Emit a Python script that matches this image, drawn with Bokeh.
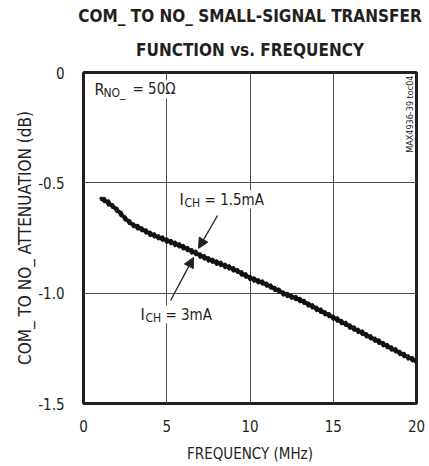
import math
from bokeh.plotting import figure
from bokeh.models import (Range1d, FixedTicker, CustomJSTickFormatter, Label,
                          Arrow, NormalHead, Title)
from bokeh.embed import file_html
from bokeh.resources import INLINE

# ---------------- data ----------------
freq_mhz = [
    1.0, 1.25, 1.5, 1.75, 2.0, 2.25, 2.5, 2.75, 3.0, 3.25, 3.5, 3.75,
    4.0, 4.25, 4.5, 4.75, 5.0, 5.25, 5.5, 5.75, 6.0, 6.25, 6.5, 6.75,
    7.0, 7.25, 7.5, 7.75, 8.0, 8.25, 8.5, 8.75, 9.0, 9.25, 9.5, 9.75,
    10.0, 10.25, 10.5, 10.75, 11.0, 11.25, 11.5, 11.75, 12.0, 12.25, 12.5, 12.75,
    13.0, 13.25, 13.5, 13.75, 14.0, 14.25, 14.5, 14.75, 15.0, 15.25, 15.5, 15.75,
    16.0, 16.25, 16.5, 16.75, 17.0, 17.25, 17.5, 17.75, 18.0, 18.25, 18.5, 18.75,
    19.0, 19.25, 19.5, 19.75, 20.0,
]

atten_ich_1p5ma = [
    -0.565, -0.586, -0.581, -0.613, -0.614, -0.649, -0.654, -0.685, -0.685, -0.709, -0.703, -0.728,
    -0.723, -0.746, -0.739, -0.761, -0.753, -0.776, -0.768, -0.791, -0.783, -0.808, -0.802, -0.826,
    -0.821, -0.846, -0.838, -0.861, -0.853, -0.876, -0.868, -0.891, -0.883, -0.907, -0.902, -0.928,
    -0.923, -0.946, -0.938, -0.960, -0.954, -0.978, -0.973, -0.997, -0.994, -1.016, -1.009, -1.030,
    -1.023, -1.047, -1.043, -1.067, -1.063, -1.088, -1.083, -1.107, -1.103, -1.128, -1.123, -1.147,
    -1.143, -1.168, -1.163, -1.188, -1.183, -1.208, -1.203, -1.228, -1.223, -1.248, -1.243, -1.267,
    -1.263, -1.288, -1.283, -1.307, -1.305,
]

atten_ich_3ma = [
    -0.577, -0.570, -0.602, -0.598, -0.630, -0.632, -0.670, -0.669, -0.699, -0.692, -0.718, -0.712,
    -0.739, -0.730, -0.754, -0.745, -0.770, -0.760, -0.785, -0.775, -0.800, -0.792, -0.819, -0.809,
    -0.838, -0.829, -0.855, -0.845, -0.870, -0.859, -0.885, -0.875, -0.900, -0.892, -0.919, -0.911,
    -0.939, -0.930, -0.954, -0.944, -0.969, -0.962, -0.989, -0.981, -1.009, -1.000, -1.024, -1.014,
    -1.039, -1.032, -1.059, -1.052, -1.079, -1.071, -1.099, -1.092, -1.119, -1.111, -1.139, -1.131,
    -1.160, -1.152, -1.179, -1.171, -1.199, -1.192, -1.219, -1.211, -1.239, -1.232, -1.259, -1.251,
    -1.279, -1.272, -1.299, -1.291, -1.317,
]

x_ticks = [0, 5, 10, 15, 20]
y_ticks = [0, -0.5, -1.0, -1.5]

title_line1 = "COM_ TO NO_ SMALL-SIGNAL TRANSFER"
title_line2 = "FUNCTION vs. FREQUENCY"
x_label = "FREQUENCY (MHz)"
y_label = "COM_ TO NO_ ATTENUATION (dB)"
figure_code = "MAX4936-39 toc04"

# ---------------- style ----------------
FONT = "DejaVu Sans Condensed"
INK = "#231f20"

p = figure(width=429, height=466, output_backend="svg", toolbar_location=None,
           x_range=Range1d(0, 20), y_range=Range1d(-1.5, 0), title=None,
           min_border_left=83, min_border_right=13, min_border_top=72,
           min_border_bottom=63, background_fill_color="white",
           border_fill_color="white")

t2 = Title(text=title_line2, align="center", text_font=FONT, text_font_size="17px",
           text_font_style="bold", text_color=INK, standoff=25)
p.add_layout(t2, "above")
t1 = Title(text=title_line1, align="center", text_font=FONT, text_font_size="17px",
           text_font_style="bold", text_color=INK, standoff=0)
p.add_layout(t1, "above")

p.xaxis.ticker = FixedTicker(ticks=x_ticks)
p.yaxis.ticker = FixedTicker(ticks=y_ticks)
p.yaxis.formatter = CustomJSTickFormatter(code="return tick == 0 ? '0' : tick.toFixed(1);")
p.xaxis.axis_label = x_label
p.yaxis.axis_label = y_label
for ax in p.axis:
    ax.axis_line_color = None
    ax.major_tick_line_color = None
    ax.minor_tick_line_color = None
    ax.major_tick_out = 0
    ax.major_tick_in = 0
    ax.major_label_text_font = FONT
    ax.major_label_text_font_size = "15px"
    ax.major_label_text_color = INK
    ax.axis_label_text_font = FONT
    ax.axis_label_text_font_size = "15px"
    ax.axis_label_text_font_style = "normal"
    ax.axis_label_text_color = INK
p.yaxis.axis_label_text_font_size = "17px"
p.xaxis.major_label_standoff = 16
p.xaxis.axis_label_standoff = 10
p.yaxis.major_label_standoff = 19
p.yaxis.axis_label_standoff = 0

p.grid.grid_line_color = "#4d4d4d"
p.grid.grid_line_width = 1
p.outline_line_color = INK
p.outline_line_width = 3

p.line(freq_mhz, atten_ich_1p5ma, line_color="#111111", line_width=3, line_join="round")
p.line(freq_mhz, atten_ich_3ma, line_color="#111111", line_width=3, line_join="round")


def lab(x, y, text, size="15px", dx=0, dy=0):
    p.add_layout(Label(x=x, y=y, x_offset=dx, y_offset=dy + 8, text=text,
                       text_font=FONT, text_font_size=size, text_color=INK,
                       text_baseline="alphabetic", text_align="left",
                       background_fill_color="white", padding=0))


# R_NO_ = 50 ohm
lab(0.66, -0.113, "R", "16px")
lab(0.66, -0.113, "NO_", "12px", dx=9, dy=-4)
lab(0.66, -0.113, "= 50\u03a9", "15px", dx=38)

# I_CH = 1.5mA
lab(5.77, -0.612, "I", "16px")
lab(5.77, -0.612, "CH", "12px", dx=5, dy=-3)
lab(5.77, -0.612, "= 1.5mA", "15px", dx=25)

# I_CH = 3mA
lab(3.42, -1.133, "I", "16px")
lab(3.42, -1.133, "CH", "12px", dx=5, dy=-3)
lab(3.42, -1.133, "= 3mA", "15px", dx=25)

p.add_layout(Arrow(x_start=8.05, y_start=-0.648, x_end=6.91, y_end=-0.797,
                   line_color=INK, line_width=1.3,
                   end=NormalHead(size=10, fill_color=INK, line_color=INK)))
p.add_layout(Arrow(x_start=5.23, y_start=-1.033, x_end=6.61, y_end=-0.838,
                   line_color=INK, line_width=1.3,
                   end=NormalHead(size=10, fill_color=INK, line_color=INK)))

# figure code, rotated (reads bottom-to-top), hugging the right frame edge
p.add_layout(Label(x=20, y=0, x_offset=-12, y_offset=-3, angle=math.pi / 2,
                   text=figure_code, text_font=FONT, text_font_size="9px",
                   text_color="#222222", text_align="right", text_baseline="top"))

open("out.html", "w").write(file_html(p, INLINE))
